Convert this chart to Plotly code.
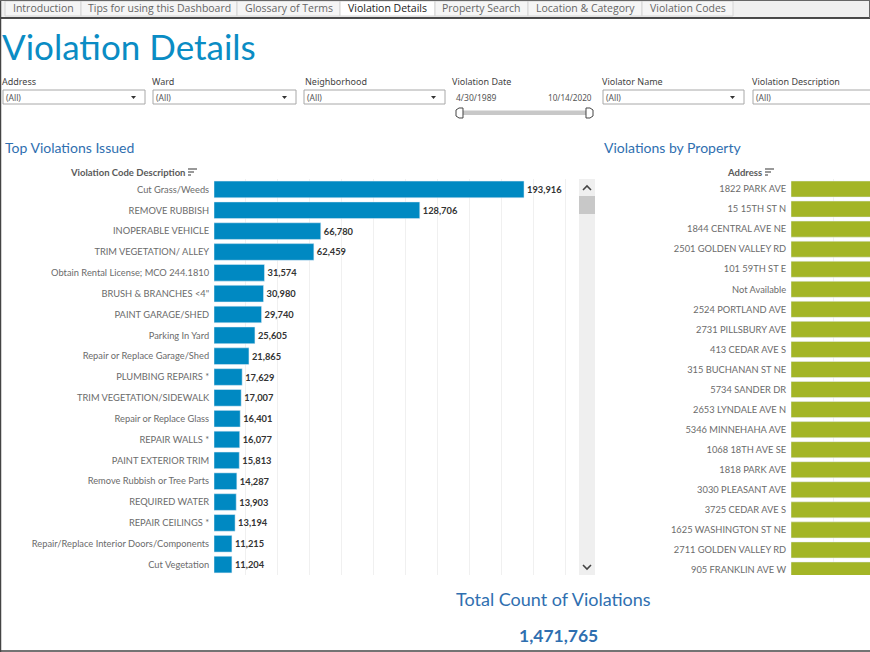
import plotly.graph_objects as go

W = 870
H = 652

# top violations
violation_names = ["Cut Grass/Weeds", "REMOVE RUBBISH", "INOPERABLE VEHICLE", "TRIM VEGETATION/ ALLEY",
    "Obtain Rental License; MCO 244.1810", "BRUSH & BRANCHES <4\"", "PAINT GARAGE/SHED", "Parking In Yard",
    "Repair or Replace Garage/Shed", "PLUMBING REPAIRS *", "TRIM VEGETATION/SIDEWALK", "Repair or Replace Glass",
    "REPAIR WALLS *", "PAINT EXTERIOR TRIM", "Remove Rubbish or Tree Parts", "REQUIRED WATER",
    "REPAIR CEILINGS *", "Repair/Replace Interior Doors/Components", "Cut Vegetation"]
violation_counts = [193916, 128706, 66780, 62459, 31574, 30980, 29740, 25605, 21865, 17629,
    17007, 16401, 16077, 15813, 14287, 13903, 13194, 11215, 11204]

# by property, the bars run off the page so the values are only a guess
addresses = ["1822 PARK AVE", "15 15TH ST N", "1844 CENTRAL AVE NE", "2501 GOLDEN VALLEY RD", "101 59TH ST E",
    "Not Available", "2524 PORTLAND AVE", "2731 PILLSBURY AVE", "413 CEDAR AVE S", "315 BUCHANAN ST NE",
    "5734 SANDER DR", "2653 LYNDALE AVE N", "5346 MINNEHAHA AVE", "1068 18TH AVE SE", "1818 PARK AVE",
    "3030 PLEASANT AVE", "3725 CEDAR AVE S", "1625 WASHINGTON ST NE", "2711 GOLDEN VALLEY RD", "905 FRANKLIN AVE W"]
address_counts = [640, 590, 560, 530, 505, 480, 465, 450, 430, 420, 405, 395, 385, 375, 365, 355, 345, 335, 325, 315]

tabs = [("Introduction", 5, 81), ("Tips for using this Dashboard", 81, 237), ("Glossary of Terms", 237, 340),
    ("Violation Details", 340, 435), ("Property Search", 435, 528), ("Location & Category", 528, 642),
    ("Violation Codes", 642, 733)]
filters = [("Address", 2, 3, 145), ("Ward", 152, 153, 296), ("Neighborhood", 305, 304, 445),
    ("Violator Name", 602, 603, 744), ("Violation Description", 752, 753, 880)]

BLUE = "#0a8cc4"
HEAD = "#2f6fb0"
GREY = "#6b6b6b"
FONT = "Noto Sans"
NARROW = "Lato"


def px(x):
    return x / W


def py(y):
    return 1 - y / H


shapes = []
notes = []


def rect(x0, y0, x1, y1, fill, line=None, w=1):
    shapes.append(dict(type="rect", xref="paper", yref="paper", x0=px(x0), x1=px(x1), y0=py(y0), y1=py(y1),
        fillcolor=fill, line=dict(color=line or fill, width=w if line else 0), layer="above"))


def poly(points, fill=None, line=None, w=1):
    d = "M " + " L ".join(f"{px(a):.5f},{py(b):.5f}" for a, b in points)
    if fill:
        d += " Z"
    shapes.append(dict(type="path", xref="paper", yref="paper", path=d, fillcolor=fill,
        line=dict(color=line or fill, width=w if line else 0), layer="above"))


def label(x, y, text, size=10, color=GREY, anchor="left", family=FONT):
    # annotations carry about 2px of padding
    shift = {"left": -2, "right": 2, "center": 0}[anchor]
    notes.append(dict(xref="paper", yref="paper", x=px(x + shift), y=py(y), text=text, showarrow=False,
        xanchor=anchor, yanchor="middle", font=dict(size=size, color=color, family=family)))


def sort_icon(x, y):
    poly([(x, y), (x + 9, y)], line="#555555", w=1.2)
    poly([(x, y + 3), (x + 6, y + 3)], line="#555555", w=1.2)
    poly([(x, y + 6), (x + 3, y + 6)], line="#555555", w=1.2)


fig = go.Figure()
fig.add_trace(go.Bar(y=violation_names, x=violation_counts, orientation="h", marker_color="#0089c2",
    text=[f"{v:,}" for v in violation_counts], textposition="outside", cliponaxis=False,
    textfont=dict(size=9.3, color="#333333", family=NARROW, weight=700), xaxis="x", yaxis="y"))
fig.add_trace(go.Bar(y=addresses, x=address_counts, orientation="h", marker_color="#a3b526",
    xaxis="x2", yaxis="y2"))

# tab strip and window frame
rect(0, 0, W, 18, "#f0f0f0")
for name, a, b in tabs:
    rect(a, 1, b, 16, "#ffffff" if name == "Violation Details" else "#f5f5f5", "#d4d4d4")
    label((a + b) / 2, 8, name, 10.5, "#222222" if name == "Violation Details" else "#666666", "center", "Open Sans")
poly([(0, 18), (W, 18)], line="#111111", w=1.5)
poly([(0.5, 0), (0.5, H)], line="#444444", w=1.5)
poly([(0, 651), (W, 651)], line="#444444", w=1.5)
poly([(0, 0.5), (W, 0.5)], line="#666666", w=1)
poly([(869.5, 0), (869.5, 18)], line="#666666", w=1)

label(2, 46, "Violation Details", 35, BLUE, family=NARROW)

# filters
for name, tx, a, b in filters:
    label(tx, 82, name, 9, "#444444")
    rect(a, 90, b, 104, "#ffffff", "#a8a8a8")
    label(a + 3, 97.5, "(All)", 8.5, "#555555")
    if b < W:
        poly([(b - 14, 96), (b - 9, 96), (b - 11.5, 99)], fill="#333333")

# date slider
label(452, 82, "Violation Date", 9, "#444444")
label(456, 97, "4/30/1989", 8.5, "#555555")
label(592, 97, "10/14/2020", 8.2, "#555555", "right")
rect(462, 110.5, 587, 115, "#c8c8c8")
poly([(463, 108), (459, 108), (456, 110), (456, 116), (459, 118), (463, 118)], fill="#ffffff", line="#444444")
poly([(586, 108), (590, 108), (593, 110), (593, 116), (590, 118), (586, 118)], fill="#ffffff", line="#444444")

# chart headers
label(5, 147, "Top Violations Issued", 14, HEAD, family=NARROW)
label(604, 147, "Violations by Property", 14, HEAD, family=NARROW)
label(185, 172, "<b>Violation Code Description</b>", 9.5, "#5a5a5a", "right", NARROW)
sort_icon(188, 169)
label(762, 172, "<b>Address</b>", 9.5, "#5a5a5a", "right", NARROW)
sort_icon(765, 169)

# scrollbar
rect(579, 179, 595, 575, "#efefef")
rect(579, 196, 595, 214, "#c8c8c8")
poly([(583, 190), (587, 186), (591, 190)], line="#444444", w=1.6)
poly([(583, 565), (587, 569), (591, 565)], line="#444444", w=1.6)

label(553, 599, "Total Count of Violations", 18, HEAD, "center", NARROW)
label(558, 635, "<b>1,471,765</b>", 17.5, HEAD, "center", NARROW)

fig.update_layout(
    width=W, height=H, margin=dict(l=0, r=0, t=0, b=0), paper_bgcolor="white", plot_bgcolor="white",
    showlegend=False, shapes=shapes, annotations=notes, font=dict(family=FONT),
    xaxis=dict(domain=[px(214), px(575)], range=[0, 225800], dtick=20000, showticklabels=False,
        gridcolor="#f0f0f0", zeroline=False, anchor="y"),
    yaxis=dict(domain=[py(575), py(179)], autorange=False, range=[18.5, -0.5], type="category",
        tickfont=dict(size=9.3, color=GREY, family=NARROW), ticks="outside", ticklen=2, tickcolor="white",
        showgrid=False, anchor="x"),
    xaxis2=dict(domain=[px(791), 1], range=[0, 188], dtick=100, showticklabels=False,
        gridcolor="#f0f0f0", zeroline=False, anchor="y2"),
    yaxis2=dict(domain=[py(575), py(179)], autorange=False, range=[19.25, -0.5], type="category",
        tickfont=dict(size=9.3, color=GREY, family=NARROW), ticks="outside", ticklen=2, tickcolor="white",
        showgrid=False, anchor="x2"),
    bargap=0.2,
)

fig.write_html("out.html", post_script="document.body.style.margin='0';document.body.style.overflow='hidden';",
    config=dict(displayModeBar=False))
